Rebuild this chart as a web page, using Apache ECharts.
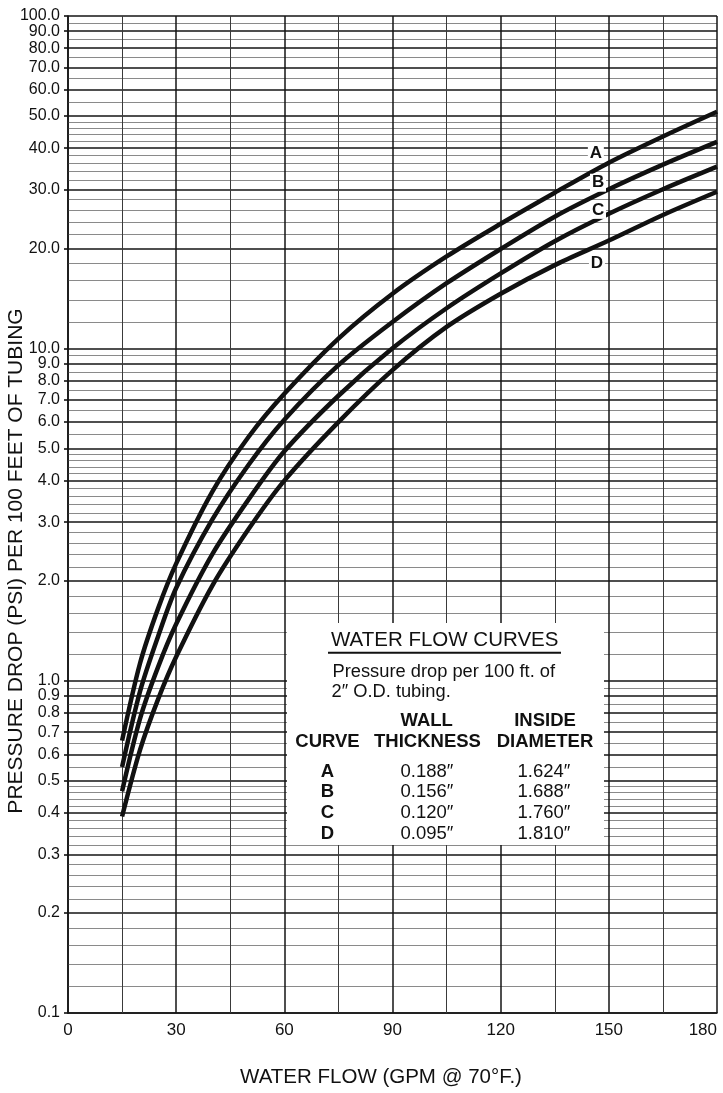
<!DOCTYPE html>
<html>
<head>
<meta charset="utf-8">
<script src="https://cdn.jsdelivr.net/npm/echarts@6/dist/echarts.min.js"></script>
<style>
  html, body { margin: 0; padding: 0; background: #fff; }
  #chart { width: 723px; height: 1093px; }
</style>
</head>
<body>
<div id="chart"></div>
<script>
// Water flow (GPM) at which each curve was read
const flowGpm = [15, 20, 25, 30, 40, 50, 60, 75, 90, 105, 120, 135, 150, 165, 180];

// Pressure drop (psi per 100 ft) for each tubing wall
const curveA = [0.66, 1.13, 1.65, 2.25, 3.7, 5.4, 7.3, 10.7, 14.6, 18.9, 23.7, 29.4, 36.2, 43.4, 51.5];
const curveB = [0.55, 0.93, 1.36, 1.9, 3.05, 4.45, 6.1, 8.9, 12.0, 15.7, 19.9, 24.9, 30.1, 35.7, 41.8];
const curveC = [0.465, 0.77, 1.1, 1.48, 2.4, 3.5, 4.9, 7.2, 10.0, 13.2, 16.8, 21.0, 25.4, 30.1, 35.2];
const curveD = [0.39, 0.62, 0.88, 1.18, 1.93, 2.85, 4.0, 6.0, 8.6, 11.6, 14.6, 17.8, 21.1, 25.2, 29.6];

const curveNames = ['A', 'B', 'C', 'D'];
const wallThickness = ['0.188″', '0.156″', '0.120″', '0.095″'];
const insideDiameter = ['1.624″', '1.688″', '1.760″', '1.810″'];

// Labelled pressure ticks
const pressureTicks = [0.1, 0.2, 0.3, 0.4, 0.5, 0.6, 0.7, 0.8, 0.9,
  1, 2, 3, 4, 5, 6, 7, 8, 9,
  10, 20, 30, 40, 50, 60, 70, 80, 90, 100];

// Graph-paper rulings within one decade
const minorRulings = [1.2, 1.4, 1.6, 1.8, 2.2, 2.4, 2.6, 2.8, 3.2, 3.4, 3.6, 3.8,
  4.2, 4.4, 4.6, 4.8, 5.5, 6.5, 7.5, 8.5, 9.5];
const decades = [0.1, 1, 10];
const flowRulings = [0, 15, 30, 45, 60, 75, 90, 105, 120, 135, 150, 165, 180];

const curves = [curveA, curveB, curveC, curveD];

const INK = '#111';
const FONT = '"Liberation Sans", Arial, Helvetica, sans-serif';
const fmtPressure = v => Number(v).toFixed(1);

// horizontal and vertical rulings
const majorH = { color: '#141414', width: 1.6, type: 'solid' };
const minorH = { color: '#8a8a8a', width: 1.1, type: 'solid' };
const majorV = { color: '#141414', width: 1.5, type: 'solid' };
const minorV = { color: '#3a3a3a', width: 1.0, type: 'solid' };

const topTick = pressureTicks[pressureTicks.length - 1];
const rulings = [];
pressureTicks.forEach(v => {
  const item = { yAxis: v, lineStyle: majorH };
  if (v === topTick) {
    // the top value is written at the start of its ruling so it is not
    // dropped by the axis when it crowds the label beneath it
    item.label = {
      show: true, position: 'start', distance: 8, formatter: fmtPressure(v),
      color: INK, fontSize: 16, fontFamily: FONT
    };
  }
  rulings.push(item);
});
decades.forEach(d => minorRulings.forEach(m => {
  rulings.push({ yAxis: Number((m * d).toPrecision(4)), lineStyle: minorH });
}));
flowRulings.forEach(v => rulings.push({ xAxis: v, lineStyle: v % 30 === 0 ? majorV : minorV }));

// letter tags beside each curve, in data units
const tagCoords = [[146.4, 38.7], [147, 31.5], [147, 26.1], [146.7, 18.05]];

const chartSeries = [{
  type: 'line',
  name: 'rulings',
  data: [[0, 0.1]],
  showSymbol: false,
  lineStyle: { opacity: 0 },
  silent: true,
  z: 1,
  markLine: {
    z: 1,
    silent: true,
    symbol: ['none', 'none'],
    label: { show: false },
    emphasis: { disabled: true },
    data: rulings
  }
}];

curves.forEach((vals, i) => {
  chartSeries.push({
    type: 'line',
    name: curveNames[i],
    data: flowGpm.map((x, k) => [x, vals[k]]),
    smooth: 0.3,
    showSymbol: false,
    symbol: 'none',
    lineStyle: { color: INK, width: 4.5, cap: 'butt' },
    z: 3,
    markPoint: {
      z: 6,
      symbol: 'rect',
      symbolSize: [16, 18],
      itemStyle: { color: '#fff' },
      label: {
        show: true,
        position: 'inside',
        formatter: curveNames[i],
        color: INK,
        fontFamily: FONT,
        fontWeight: 'bold',
        fontSize: 17
      },
      data: [{ coord: tagCoords[i] }]
    }
  });
});

// legend panel texts
const panel = [];
panel.push({ type: 'rect', z: 2, shape: { x: 287, y: 623, width: 317, height: 222 }, style: { fill: '#fff' } });
function txt(text, x, y, opts) {
  panel.push({
    type: 'text', z: 4, x: x, y: y,
    style: Object.assign({
      text: text, fill: INK, fontFamily: FONT, fontSize: 18.5,
      align: 'center', verticalAlign: 'middle'
    }, opts || {})
  });
}
txt('WATER FLOW CURVES', 444.7, 640.5, { fontSize: 20.5 });
panel.push({ type: 'rect', z: 4, shape: { x: 328, y: 651.8, width: 233, height: 2 }, style: { fill: INK } });
txt('Pressure drop per 100 ft. of', 332.5, 671.5, { align: 'left', fontSize: 18.3 });
txt('2″ O.D. tubing.', 331.5, 692, { align: 'left', fontSize: 18.3 });
txt('WALL', 426.7, 720.5, { fontWeight: 'bold' });
txt('INSIDE', 545, 720.5, { fontWeight: 'bold' });
txt('CURVE', 327.5, 742, { fontWeight: 'bold' });
txt('THICKNESS', 427.5, 742, { fontWeight: 'bold' });
txt('DIAMETER', 545, 742, { fontWeight: 'bold' });
const rowY = [771.5, 791.8, 812.5, 833.5];
curveNames.forEach((n, i) => {
  txt(n, 327.5, rowY[i], { fontWeight: 'bold' });
  txt(wallThickness[i], 427, rowY[i]);
  txt(insideDiameter[i], 544, rowY[i]);
});

// axis titles
panel.push({
  type: 'text', z: 4, x: 16.5, y: 561, rotation: Math.PI / 2,
  style: { text: 'PRESSURE DROP (PSI) PER 100 FEET OF TUBING', fill: INK, fontFamily: FONT,
    fontSize: 21, align: 'center', verticalAlign: 'middle' }
});
panel.push({
  type: 'text', z: 4, x: 381, y: 1077,
  style: { text: 'WATER FLOW (GPM @ 70°F.)', fill: INK, fontFamily: FONT,
    fontSize: 20.5, align: 'center', verticalAlign: 'middle' }
});

const chart = echarts.init(document.getElementById('chart'), null, { renderer: 'canvas' });
chart.setOption({
  backgroundColor: '#fff',
  animation: false,
  grid: { left: 68, right: 6, top: 16, bottom: 80, containLabel: false },
  xAxis: {
    type: 'value',
    min: 0, max: 180, interval: 30,
    axisLine: { show: true, lineStyle: { color: INK, width: 1.6 } },
    axisTick: { show: false },
    splitLine: { show: false },
    axisLabel: {
      margin: 9,
      color: INK,
      fontSize: 17,
      fontFamily: FONT,
      showMinLabel: true,
      showMaxLabel: true,
      alignMaxLabel: 'right'
    }
  },
  yAxis: {
    type: 'log',
    logBase: 10,
    min: 0.1, max: 100,
    axisLine: { show: true, lineStyle: { color: INK, width: 1.6 } },
    axisTick: { show: true, customValues: pressureTicks, length: 4, lineStyle: { color: INK, width: 1.6 } },
    splitLine: { show: false },
    minorTick: { show: false },
    axisLabel: {
      customValues: pressureTicks.filter(v => v !== topTick),
      showMinLabel: true,
      hideOverlap: false,
      margin: 8,
      color: INK,
      fontSize: 16,
      fontFamily: FONT,
      formatter: fmtPressure
    }
  },
  series: chartSeries,
  graphic: panel
});
</script>
</body>
</html>
